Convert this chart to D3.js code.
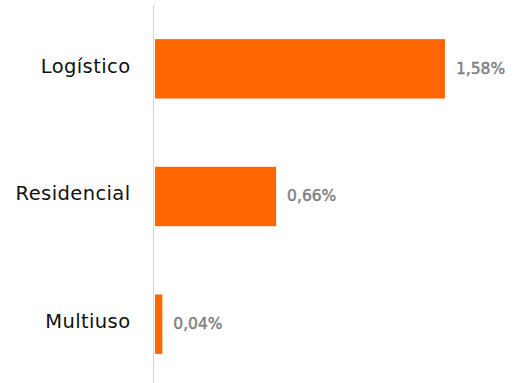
<!DOCTYPE html>
<html>
<head>
<meta charset="utf-8">
<script src="https://cdn.jsdelivr.net/npm/d3@7"></script>
<style>
  html, body { margin: 0; padding: 0; background: #ffffff; }
  svg { display: block; }
</style>
</head>
<body>
<svg id="chart" width="520" height="383"></svg>
<script>
// Share of each segment (percent)
const categories = ["Logístico", "Residencial", "Multiuso"];
const values = [1.58, 0.66, 0.04];

const width = 520, height = 383;
const plotLeft = 154, plotTop = 5, plotBottom = 388;

const svg = d3.select("#chart");

const x = d3.scaleLinear().domain([0, 2]).range([plotLeft + 1, plotLeft + 1 + 367]);
const y = d3.scaleBand()
  .domain(categories)
  .range([plotTop, plotBottom])
  .paddingInner(0.535)
  .paddingOuter(0.2675);

const fmt = v => d3.format(".2f")(v).replace(".", ",") + "%";

const rows = categories.map((c, i) => ({ cat: c, val: values[i] }));

// Bars
svg.append("g")
  .selectAll("rect")
  .data(rows)
  .join("rect")
  .attr("x", x(0))
  .attr("y", d => y(d.cat))
  .attr("width", d => x(d.val) - x(0))
  .attr("height", y.bandwidth())
  .attr("fill", "#ff6600");

// Category axis line
svg.append("line")
  .attr("x1", plotLeft - 0.5).attr("x2", plotLeft - 0.5)
  .attr("y1", plotTop).attr("y2", height)
  .attr("stroke", "#ccd6eb")
  .attr("stroke-width", 1);

// Category labels
svg.append("g")
  .selectAll("text")
  .data(rows)
  .join("text")
  .attr("x", 130.5)
  .attr("y", d => y(d.cat) + y.bandwidth() / 2 + 3.8)
  .attr("text-anchor", "end")
  .attr("font-family", "DejaVu Sans, sans-serif")
  .attr("font-size", 19.5)
  .attr("letter-spacing", 0.4)
  .attr("fill", "#111111")
  .text(d => d.cat);

// Value labels
svg.append("g")
  .selectAll("text")
  .data(rows)
  .join("text")
  .attr("x", d => x(d.val) + 11)
  .attr("y", d => y(d.cat) + y.bandwidth() / 2 + 4.8)
  .attr("font-family", "DejaVu Sans, sans-serif")
  .attr("font-size", 15.5)
  .attr("fill", "#7f7f7f")
  .attr("stroke", "#7f7f7f")
  .attr("stroke-width", 0.45)
  .text(d => fmt(d.val));
</script>
</body>
</html>
